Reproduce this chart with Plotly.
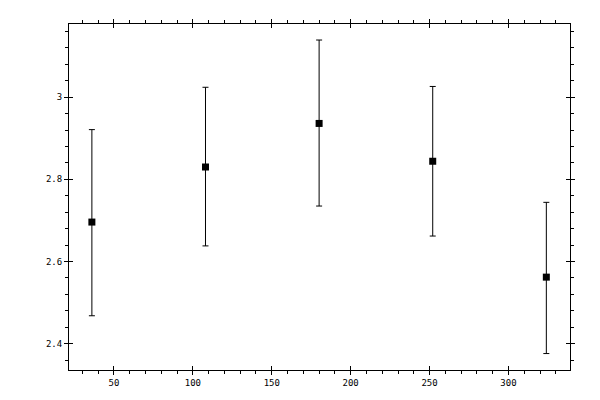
import plotly.graph_objects as go

x_vals = [36, 108, 180, 252, 324]
y_vals = [2.696, 2.830, 2.936, 2.844, 2.562]
err_plus = [0.225, 0.194, 0.203, 0.182, 0.182]
err_minus = [0.228, 0.192, 0.201, 0.182, 0.186]

x_range = [21.5, 339]
y_range = [2.336, 3.178]

fig = go.Figure()
fig.add_trace(go.Scatter(
    x=x_vals, y=y_vals, mode="markers",
    marker=dict(symbol="square", size=7, color="black"),
    error_y=dict(type="data", symmetric=False, array=err_plus, arrayminus=err_minus,
                 color="black", thickness=1, width=3),
    showlegend=False, hoverinfo="skip",
))
# invisible trace for overlay axes (crossing major ticks)
fig.add_trace(go.Scatter(x=[x_range[0]], y=[y_range[0]], xaxis="x2", yaxis="y2",
                         mode="markers", marker=dict(opacity=0), showlegend=False,
                         hoverinfo="skip"))

font = dict(family="DejaVu Sans Mono", size=9, color="black")
common = dict(showgrid=False, zeroline=False, showline=True, linecolor="black",
              linewidth=1, ticks="outside", ticklen=4, tickwidth=1, tickcolor="black",
              mirror="allticks", tickfont=font)

fig.update_layout(
    width=600, height=400,
    margin=dict(l=61, r=38, t=11, b=38),
    paper_bgcolor="white", plot_bgcolor="white",
    xaxis=dict(range=x_range, tick0=0, dtick=50,
               minor=dict(dtick=10, ticks="outside", ticklen=3, tickcolor="black"),
               **common),
    yaxis=dict(range=y_range, tick0=2, dtick=0.2, tickformat="~g",
               minor=dict(dtick=0.04, ticks="outside", ticklen=3, tickcolor="black"),
               **common),
    xaxis2=dict(range=x_range, overlaying="x", tick0=0, dtick=50, ticks="inside",
                ticklen=4, tickcolor="black", showticklabels=False, showgrid=False,
                zeroline=False, showline=False, mirror="allticks", side="bottom"),
    yaxis2=dict(range=y_range, overlaying="y", tick0=2, dtick=0.2, ticks="inside",
                ticklen=4, tickcolor="black", showticklabels=False, showgrid=False,
                zeroline=False, showline=False, mirror="allticks", side="left"),
)

fig.write_html("out.html")
